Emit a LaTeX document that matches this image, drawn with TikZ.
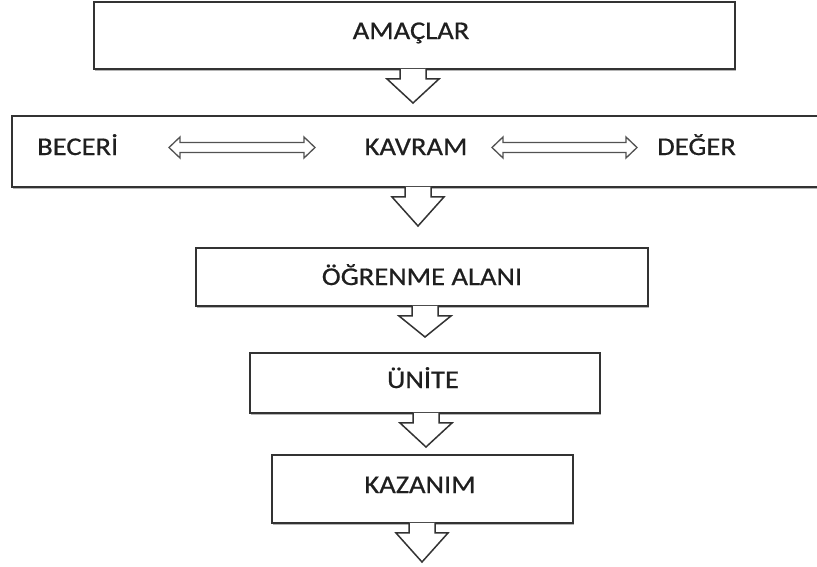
\documentclass[tikz,border=0pt]{standalone}
\usepackage{fontspec}
\setmainfont{Carlito}[FakeStretch=1.12, FakeBold=0.6]
\usetikzlibrary{calc,shadows}
\definecolor{lineC}{HTML}{333333}
\definecolor{shadowC}{HTML}{B4B4B4}
\tikzset{
  box/.style={draw=lineC, line width=1.9pt, fill=white, rectangle, inner sep=0pt,
    drop shadow={shadow xshift=1.2pt, shadow yshift=-2.4pt, fill=shadowC, opacity=1}},
  lbl/.style={inner sep=0pt, font=\fontsize{25.5}{30}\selectfont, text=black!88},
  arrowline/.style={draw=lineC, line width=1.5pt, line join=miter},
  dbl/.style={draw=lineC!85, line width=1.3pt, fill=white, line join=miter}
}
\newcommand\flowarrow[2]{%
  \fill[white] let \p1=(#1.south), \p2=(#2) in
    (\x2-13,\y1+1.2) -- (\x2-13,\y1-9) -- (\x2-26,\y1-9) -- (\x2,\y2) --
    (\x2+26,\y1-9) -- (\x2+13,\y1-9) -- (\x2+13,\y1+1.2) -- cycle;
  \draw[arrowline] let \p1=(#1.south), \p2=(#2) in
    (\x2-13,\y1+0.9) -- (\x2-13,\y1-9) -- (\x2-26,\y1-9) -- (\x2,\y2) --
    (\x2+26,\y1-9) -- (\x2+13,\y1-9) -- (\x2+13,\y1+0.9);
}
\newcommand\dblarrow[2]{%
  \draw[dbl] let \p1=(#1), \p2=(#2) in
    (\x1,\y1) -- (\x1+11,\y1+10.5) -- (\x1+11,\y1+5) -- (\x2-11,\y1+5) --
    (\x2-11,\y1+10.5) -- (\x2,\y1) -- (\x2-11,\y1-10.5) -- (\x2-11,\y1-5) --
    (\x1+11,\y1-5) -- (\x1+11,\y1-10.5) -- cycle;
}
\begin{document}
\begin{tikzpicture}[x=1pt,y=-1pt]
  \fill[white] (0,0) rectangle (817,566);
  \useasboundingbox (0,0) rectangle (817,566);
  \clip (0,0) rectangle (817,566);

  % boxes
  \node[box, minimum width=641pt, minimum height=67pt] (b1) at (414.5,35.5) {};
  \node[box, minimum width=818pt, minimum height=71pt] (b2) at (421,151.5) {};
  \node[box, minimum width=452pt, minimum height=58pt] (b3) at (422,277) {};
  \node[box, minimum width=350pt, minimum height=60pt] (b4) at (425,383) {};
  \node[box, minimum width=301pt, minimum height=68pt] (b5) at (422.5,489) {};

  % labels
  \node[lbl, anchor=base] (amac) at (411,39) {AMAÇLAR};
  \node[lbl, anchor=base west] (beceri) at (37,155) {BECERİ};
  \node[lbl, anchor=base] (kavram) at (416,155) {KAVRAM};
  \node[lbl, anchor=base west] (deger) at (657,155) {DEĞER};
  \node[lbl, anchor=base] (ogrenme) at (422,285) {ÖĞRENME ALANI};
  \node[lbl, anchor=base] (unite) at (423,388) {ÜNİTE};
  \node[lbl, anchor=base] (kazanim) at (420,493) {KAZANIM};

  % down arrow tips
  \coordinate (t1) at (413,103);
  \coordinate (t2) at (418,226);
  \coordinate (t3) at (425,337);
  \coordinate (t4) at (426,447);
  \coordinate (t5) at (422,562);

  \flowarrow{b1}{t1}
  \flowarrow{b2}{t2}
  \flowarrow{b3}{t3}
  \flowarrow{b4}{t4}
  \flowarrow{b5}{t5}

  % double arrows
  \coordinate (d1a) at (169,147.5);
  \coordinate (d1b) at (315,147.5);
  \coordinate (d2a) at (492,147.5);
  \coordinate (d2b) at (637,147.5);
  \dblarrow{d1a}{d1b}
  \dblarrow{d2a}{d2b}
\end{tikzpicture}
\end{document}
